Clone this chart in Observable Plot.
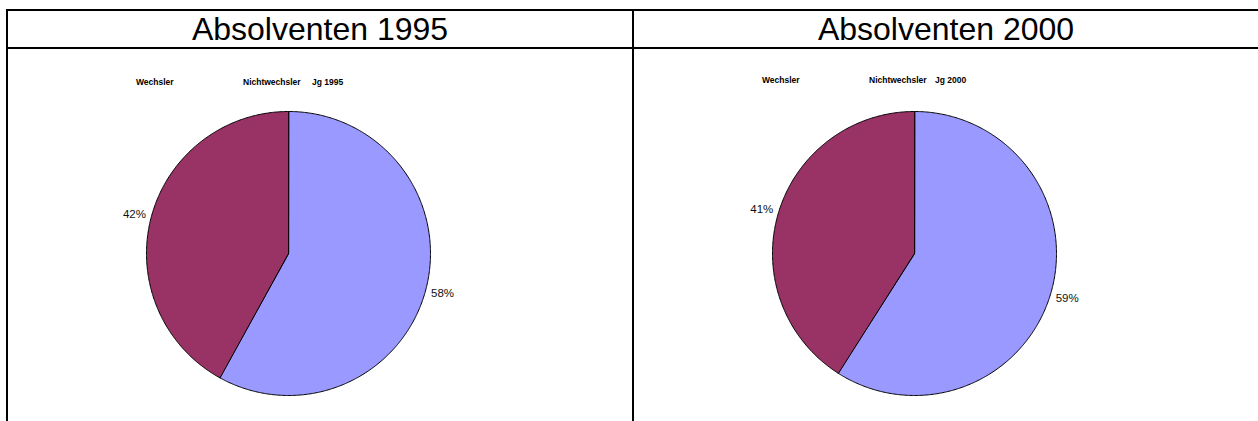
<!DOCTYPE html>
<html>
<head>
<meta charset="utf-8">
<script src="https://cdn.jsdelivr.net/npm/d3@7"></script>
<script src="https://cdn.jsdelivr.net/npm/@observablehq/plot@0.6"></script>
<style>
  html, body { margin: 0; padding: 0; background: #fff; }
  #page { position: relative; width: 1258px; height: 421px; overflow: hidden; background: #fff;
          font-family: "Liberation Sans", Arial, sans-serif; }
  .hline, .vline { position: absolute; background: #000; }
  .title { position: absolute; top: 9px; height: 38px; line-height: 38px; font-size: 32px; text-align: center; color: #000; white-space: nowrap; }
  .cell { position: absolute; top: 49px; width: 624px; height: 372px; }
  .leg { position: absolute; font-size: 8.5px; font-weight: bold; color: #000; white-space: nowrap; line-height: 10px; }
  .cell svg { position: absolute; left: 0; top: 0; overflow: visible; }
</style>
</head>
<body>
<div id="page"></div>
<script>
// ---- data ----
const categories = ["Nichtwechsler", "Wechsler"];
const values1995 = [58, 42];
const values2000 = [59, 41];
const colors = ["#9999FF", "#993366"];
const titles = ["Absolventen 1995", "Absolventen 2000"];
const legendLabels = ["Wechsler", "Nichtwechsler"];
const yearLabels = ["Jg 1995", "Jg 2000"];

const page = document.getElementById("page");
function box(cls, l, t, w, h) {
  const d = document.createElement("div");
  d.className = cls;
  d.style.left = l + "px"; d.style.top = t + "px";
  d.style.width = w + "px"; d.style.height = h + "px";
  page.appendChild(d);
  return d;
}
// table grid
box("hline", 6, 9, 1260, 2);
box("hline", 6, 47, 1260, 2);
box("vline", 6, 9, 2, 420);
box("vline", 632, 9, 2, 420);

const cellLefts = [8, 634];
const series = [values1995, values2000];

series.forEach((vals, i) => {
  const t = document.createElement("div");
  t.className = "title";
  t.style.left = (cellLefts[i]) + "px";
  t.style.width = (i === 0 ? 624 : 624) + "px";
  t.style.top = "10px";
  t.textContent = titles[i];
  page.appendChild(t);

  const cell = document.createElement("div");
  cell.className = "cell";
  cell.style.left = cellLefts[i] + "px";
  page.appendChild(cell);

  // legend texts
  const legPos = [128, 235, i === 0 ? 304 : 301];
  const legTexts = [legendLabels[0], legendLabels[1], yearLabels[i]];
  legTexts.forEach((txt, j) => {
    const s = document.createElement("div");
    s.className = "leg";
    s.style.left = legPos[j] + "px";
    s.style.top = (i === 0 ? 28 : 26) + "px";
    s.textContent = txt;
    cell.appendChild(s);
  });

  const table = categories.map((c, k) => ({ key: c, value: vals[k] }));
  const arcs = d3.pie().sort(null).value(d => d.value)(table);
  const pts = [];
  arcs.forEach(a => {
    pts.push({ key: a.data.key, x: 0, y: 0 });
    const n = Math.max(2, Math.ceil((a.endAngle - a.startAngle) / (Math.PI / 360)));
    for (let s = 0; s <= n; s++) {
      const ang = a.startAngle + (a.endAngle - a.startAngle) * s / n;
      pts.push({ key: a.data.key, x: Math.sin(ang), y: Math.cos(ang) });
    }
  });
  const labels = arcs.map(a => {
    const m = (a.startAngle + a.endAngle) / 2;
    return { x: 1.12 * Math.sin(m), y: 1.12 * Math.cos(m), text: a.data.value + "%" };
  });

  const cx = 280, cy = 204, r = 142;
  const chart = Plot.plot({
    width: 624,
    height: 372,
    margin: 0,
    style: { background: "transparent", fontFamily: "'Liberation Sans', Arial, sans-serif" },
    x: { domain: [-1, 1], range: [cx - r, cx + r], axis: null },
    y: { domain: [-1, 1], range: [cy + r, cy - r], axis: null },
    color: { domain: categories, range: colors },
    marks: [
      Plot.line(pts, { x: "x", y: "y", z: "key", fill: "key", stroke: "#000", strokeWidth: 1, curve: "linear-closed", strokeLinejoin: "round" }),
      Plot.text(labels, { x: "x", y: "y", text: "text", fontSize: 11.5, fill: "#111", textAnchor: "middle" })
    ]
  });
  cell.appendChild(chart);
});
</script>
</body>
</html>
